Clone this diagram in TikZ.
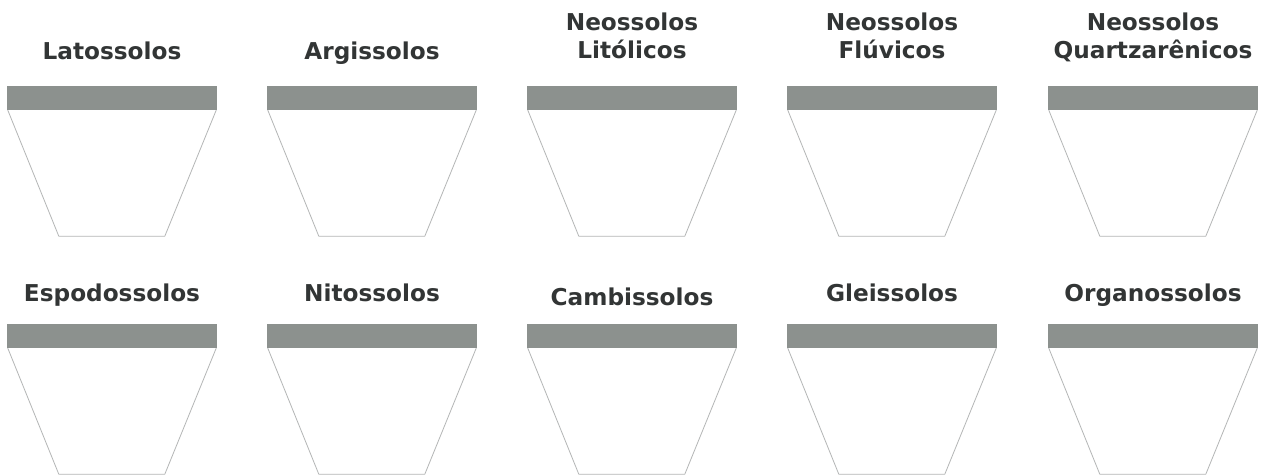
\documentclass[tikz,border=0pt]{standalone}
\usepackage{fontspec}
\setmainfont{DejaVu Sans}
\definecolor{lblgray}{RGB}{50,53,53}
\definecolor{bargray}{RGB}{140,145,142}
\definecolor{potgray}{RGB}{180,182,182}
\begin{document}
\begin{tikzpicture}[x=1pt,y=-1pt,
  lbl/.style={font=\bfseries\fontsize{23.2}{28}\selectfont, text=lblgray, align=center,
    anchor=south, inner sep=0pt, text depth=0pt},
  bar/.style={rectangle, fill=bargray, draw=none, minimum width=210pt, minimum height=24pt, inner sep=0pt},
  pot/.style={draw=potgray, line width=0.8pt, line join=round}]
\useasboundingbox (0,0) rectangle (1269,475);
\fill[white] (0,0) rectangle (1269,475);
\foreach \i/\x/\yb/\yl/\t in {
  1/7/98/60/{Latossolos},
  2/267/98/60/{Argissolos},
  3/527/98/59/{Neossolos\\Litólicos},
  4/787/98/59/{Neossolos\\Flúvicos},
  5/1048/98/59/{Neossolos\\Quartzarênicos},
  6/7/336/302/{Espodossolos},
  7/267/336/302/{Nitossolos},
  8/527/336/306/{Cambissolos},
  9/787/336/302/{Gleissolos},
  10/1048/336/302/{Organossolos}}{
  \node[bar] (bar\i) at (\x+105,\yb) {};
  \node[lbl] (lab\i) at (\x+105,\yl) {\t};
  \draw[pot] ([xshift=1pt]bar\i.south west) -- ++(51,126) -- ++(106,0) -- ([xshift=-1pt]bar\i.south east);
}
\end{tikzpicture}
\end{document}
